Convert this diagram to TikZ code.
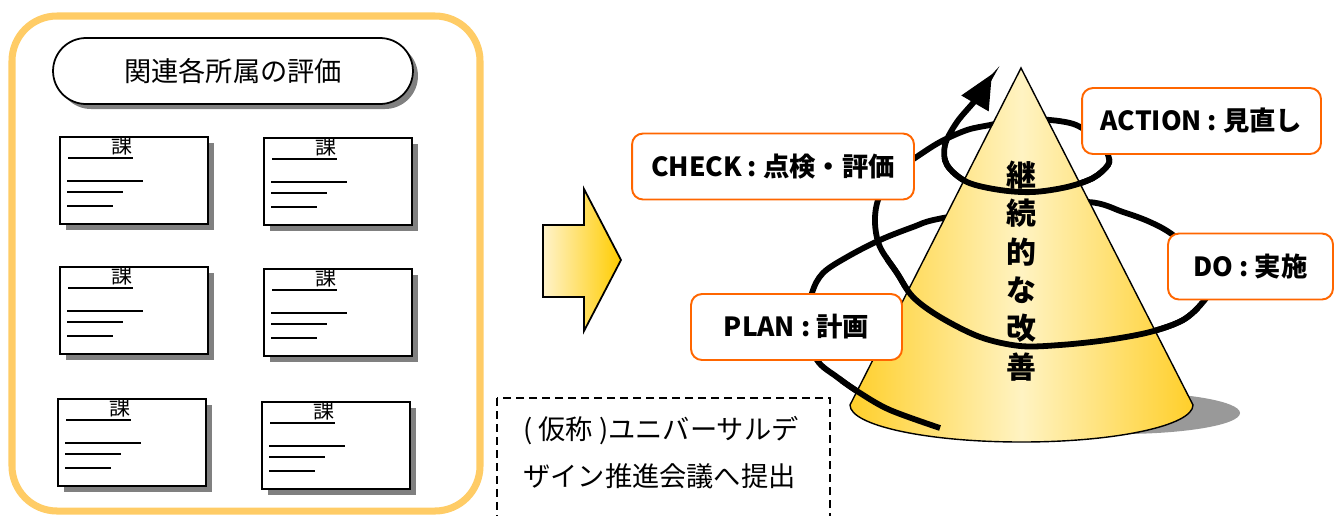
\documentclass[tikz,border=0pt]{standalone}
\usepackage{fontspec}
\setmainfont{Noto Sans CJK JP}
\usepackage{tikz}
\usetikzlibrary{arrows.meta,shadows}

\definecolor{frameorange}{HTML}{FFCC66}
\definecolor{lblorange}{HTML}{FF6600}
\definecolor{conedark}{HTML}{FFCF2A}
\definecolor{conelight}{HTML}{FFF3C2}
\definecolor{arrowlight}{HTML}{FFF3CA}
\definecolor{arrowdark}{HTML}{FFCC00}

% the PDCA spiral round the cone, bottom end first
\newcommand{\spiralpath}{plot[smooth,tension=0.55] coordinates {
  (940,428) (890,410) (860,393) (837,377) (817,360) (806,327) (812,293)
  (823,273) (847,257) (880,240) (913,227) (938,219) (1015,206) (1088,202)
  (1123,212) (1150,222) (1173,235) (1203,262) (1212,285) (1203,302)
  (1183,320) (1150,332) (1107,340) (1060,345) (1020,346) (980,337)
  (940,317) (913,297) (897,273) (880,247) (875,223) (878,200) (891,175)
  (915,158) (940,142) (967,130) (990,125) (1020,119) (1050,120) (1070,123)
  (1082,128) (1100,140) (1108,155) (1108,165) (1093,178) (1067,187)
  (1033,192) (1000,190) (967,182) (947,165) (945,145) (957,122) (977,98)
  (992,74)}}

\begin{document}
\begin{tikzpicture}[x=0.02cm,y=-0.02cm,
  sh/.style={drop shadow={shadow xshift=#1,shadow yshift=-#1,fill=black!50,opacity=1}},
  card/.style={draw,line width=1pt,fill=white,anchor=north west,inner sep=0,minimum width=2.96cm,minimum height=1.74cm,sh=0.12cm},
  pill/.style={draw,line width=1pt,fill=white,rounded corners=0.66cm,minimum width=7.2cm,minimum height=1.32cm,sh=0.1cm,font=\fontsize{15.5}{18}\selectfont},
  lbl/.style={draw=lblorange,line width=1.1pt,fill=white,rounded corners=0.22cm,minimum height=1.32cm,font=\bfseries\fontsize{15}{18}\selectfont},
  spiral/.style={line width=3.3pt,-{Triangle[length=0.68cm,width=0.6cm]}}]
\useasboundingbox (0,0) rectangle (1335,515);

\draw[frameorange,line width=4pt,rounded corners=0.9cm] (12,16) rectangle (480,511);
\node[pill] (title) at (233,71) {関連各所属の評価};
\foreach \cx/\cy [count=\i] in {59/136,263/137,59/266,263/268,57/398,261/401}{
  \node[card] (card\i) at (\cx,\cy) {};
  \node[font=\fontsize{12}{14}\selectfont] (ka\i) at (\cx+63,\cy+10) {課};
  \draw[line width=1.1pt] (\cx+9,\cy+22) -- ++(65,0)
    (\cx+8,\cy+45) -- ++(76,0)
    (\cx+8,\cy+56) -- ++(56,0)
    (\cx+8,\cy+70) -- ++(46,0);
}

\draw[line width=1pt,left color=arrowlight,right color=arrowdark]
  (543,225) -- (584,225) -- (584,189) -- (621,260) -- (584,331) -- (584,297) -- (543,297) -- cycle;

\draw[line width=1pt,dash pattern=on 0.16cm off 0.1cm] (497,398) rectangle (830,540);
\node[font=\fontsize{15.5}{26.7}\selectfont,align=left,anchor=west,inner sep=0] (submit) at (523,453)
  {( 仮称 )ユニバーサルデ\\ザイン推進会議へ提出};

% cone with its shadow; the spiral goes behind first, front parts again on top
\fill[black!40] (1120,413) ellipse [x radius=120,y radius=21];
\draw[spiral] \spiralpath;
\draw[line width=0.8pt,left color=conedark,right color=conedark,middle color=conelight]
  (1021,68) -- (850,405) arc[start angle=180,end angle=0,x radius=171.5,y radius=37] -- cycle;
\begin{scope}
\clip (840,368) rectangle (952,440) (885,255) rectangle (1200,362) (938,158) rectangle (1115,197);
\draw[spiral] \spiralpath;
\end{scope}
\node[font=\bfseries\fontsize{17}{21.8}\selectfont,align=center] (kaizen) at (1021,271) {継\\続\\的\\な\\改\\善};

\node[lbl,minimum width=5.64cm] (check) at (773,166.5) {CHECK : 点検・評価};
\node[lbl,minimum width=4.78cm] (act) at (1201.5,121) {ACTION : 見直し};
\node[lbl,minimum width=3.3cm] (do) at (1250.5,266.5) {DO : 実施};
\node[lbl,minimum width=4.22cm] (plan) at (796.5,327) {PLAN : 計画};
\end{tikzpicture}
\end{document}
